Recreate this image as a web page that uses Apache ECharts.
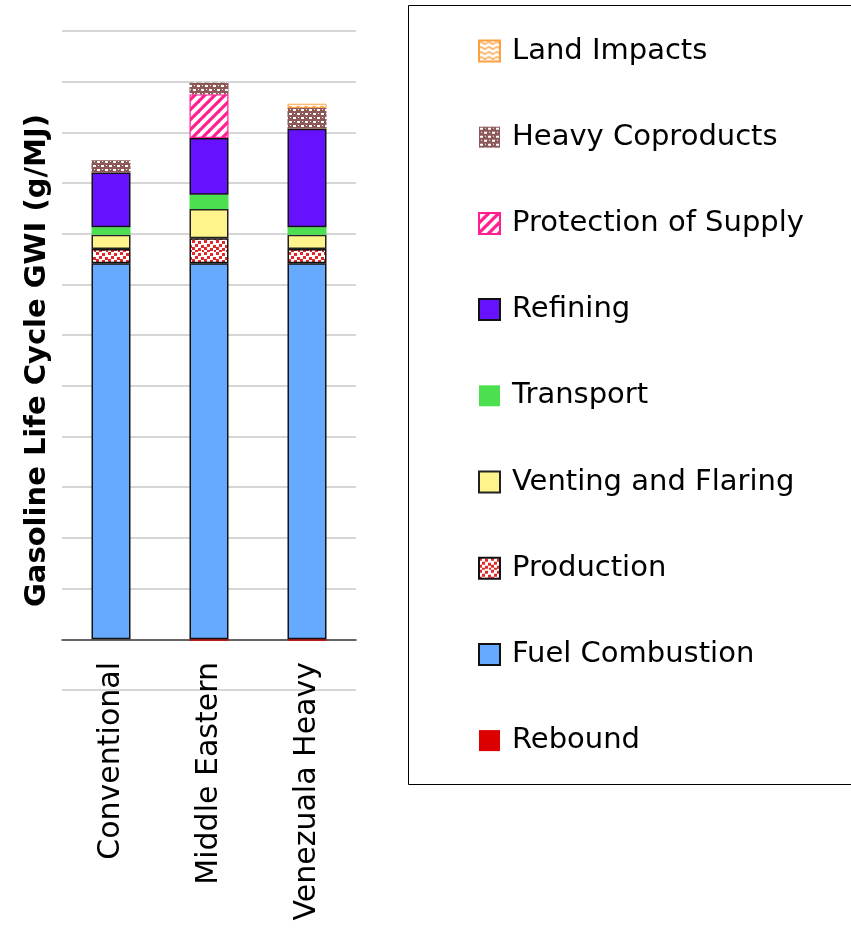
<!DOCTYPE html>
<html>
<head>
<meta charset="utf-8">
<script src="https://cdn.jsdelivr.net/npm/echarts@6/dist/echarts.min.js"></script>
<style>
  html, body { margin: 0; padding: 0; background: #fff; }
  #chart { width: 851px; height: 937px; }
</style>
</head>
<body>
<div id="chart"></div>
<script>
// Gasoline life-cycle GWI by crude source, stacked by emission stage (g/MJ)
const categories = ['Conventional', 'Middle Eastern', 'Venezuala Heavy'];
const rebound = [0, -0.3, -0.3];
const fuelCombustion = [74.2, 74.2, 74.2];
const production = [2.8, 4.9, 2.8];
const ventingAndFlaring = [2.8, 5.8, 2.8];
const transport = [1.5, 2.8, 1.5];
const refining = [10.8, 11.2, 19.4];
const protectionOfSupply = [0, 8.6, 0];
const heavyCoproducts = [2.4, 2.3, 4.1];
const landImpacts = [0, 0, 0.85];
const yMin = -10, yMax = 120, yInterval = 10;

const FONT = '"DejaVu Sans", "Liberation Sans", Arial, sans-serif';

// Small repeating canvas tiles used as hatch fills
function tile(w, h, draw) {
  const c = document.createElement('canvas');
  c.width = w; c.height = h;
  draw(c.getContext('2d'));
  return { image: c, repeat: 'repeat' };
}
const productionFill = tile(12, 12, ctx => {
  ctx.fillStyle = '#ffffff'; ctx.fillRect(0, 0, 12, 12);
  ctx.fillStyle = '#e02a2a';
  [[0,0],[6,1],[3,4],[9,5],[0,7],[6,8],[3,10],[10,10]].forEach(([x, y]) => ctx.fillRect(x, y, 3, 3));
});
const protectionFill = tile(10, 10, ctx => {
  ctx.fillStyle = '#ffffff'; ctx.fillRect(0, 0, 10, 10);
  ctx.strokeStyle = '#ff1f8f'; ctx.lineWidth = 3.2;
  [[-5, 5, 5, -5], [0, 10, 10, 0], [5, 15, 15, 5]].forEach(([a, b, c, d]) => {
    ctx.beginPath(); ctx.moveTo(a, b); ctx.lineTo(c, d); ctx.stroke();
  });
});
const coproductFill = tile(8, 8, ctx => {
  ctx.fillStyle = '#8c5858'; ctx.fillRect(0, 0, 8, 8);
  ctx.fillStyle = '#ffffff';
  ctx.fillRect(1, 1, 3, 2); ctx.fillRect(5, 5, 3, 2);
  ctx.fillRect(6, 1, 1, 1); ctx.fillRect(2, 5, 1, 1);
});
const landFill = tile(8, 5, ctx => {
  ctx.fillStyle = '#ffffff'; ctx.fillRect(0, 0, 8, 5);
  ctx.strokeStyle = '#ffa040'; ctx.lineWidth = 1.4;
  ctx.beginPath(); ctx.moveTo(0, 2.5);
  ctx.quadraticCurveTo(2, 0.5, 4, 2.5); ctx.quadraticCurveTo(6, 4.5, 8, 2.5);
  ctx.stroke();
});

const noZero = arr => arr.map(v => (v === 0 ? '-' : v));

function stage(name, values, itemStyle) {
  return {
    name, type: 'bar', stack: 'gwi', barWidth: 39,
    data: noZero(values),
    itemStyle: Object.assign({ borderWidth: 0 }, itemStyle),
    emphasis: { disabled: true }
  };
}

const series = [
  stage('Rebound', rebound, { color: '#dd0000' }),
  stage('Fuel Combustion', fuelCombustion, { color: '#66aaff', borderColor: '#111', borderWidth: 1.5 }),
  stage('Production', production, { color: productionFill, borderColor: '#111', borderWidth: 1.5 }),
  stage('Venting and Flaring', ventingAndFlaring, { color: '#fff48c', borderColor: '#222', borderWidth: 1.5 }),
  stage('Transport', transport, { color: '#4ce050' }),
  stage('Refining', refining, { color: '#6611ff', borderColor: '#111', borderWidth: 1.5 }),
  stage('Protection of Supply', protectionOfSupply, { color: protectionFill, borderColor: '#ff1f8f', borderWidth: 1.2 }),
  stage('Heavy Coproducts', heavyCoproducts, { color: coproductFill }),
  stage('Land Impacts', landImpacts, { color: landFill, borderColor: '#ffa040', borderWidth: 1 })
];

const chart = echarts.init(document.getElementById('chart'), null, { renderer: 'canvas' });
chart.setOption({
  animation: false,
  backgroundColor: '#ffffff',
  grid: { left: 62, right: 495, top: 31, bottom: 247, containLabel: false, outerBoundsMode: 'none' },
  xAxis: {
    type: 'category',
    data: categories,
    axisLine: { onZero: true, lineStyle: { color: '#404040', width: 1.5 } },
    axisTick: { show: false },
    // labels hang just below the zero line, overlapping the lowest band
    axisLabel: { rotate: 90, margin: -28, fontSize: 30, fontFamily: FONT, color: '#000' },
    splitLine: { show: false }
  },
  yAxis: {
    type: 'value',
    min: yMin, max: yMax, interval: yInterval,
    name: 'Gasoline Life Cycle GWI (g/MJ)',
    nameLocation: 'middle',
    nameGap: 10,
    nameTextStyle: { fontSize: 29, fontWeight: 'bold', fontFamily: FONT, color: '#000' },
    axisLine: { show: false },
    axisTick: { show: false },
    axisLabel: { show: false },
    splitLine: { lineStyle: { color: '#c8c8c8', width: 1.5 } }
  },
  legend: {
    orient: 'vertical',
    left: 478, top: 36.5,
    padding: 0,
    icon: 'rect',
    itemWidth: 21, itemHeight: 21, itemGap: 57.2,
    selectedMode: false,
    data: series.map(s => s.name).reverse(),
    textStyle: { fontSize: 29, fontFamily: FONT, color: '#000', padding: [0, 0, 0, 7] }
  },
  graphic: [{
    type: 'rect', z: -1,
    shape: { x: 408.5, y: 5.5, width: 460, height: 779 },
    style: { fill: 'none', stroke: '#000', lineWidth: 1 }
  }],
  series
});
</script>
</body>
</html>
